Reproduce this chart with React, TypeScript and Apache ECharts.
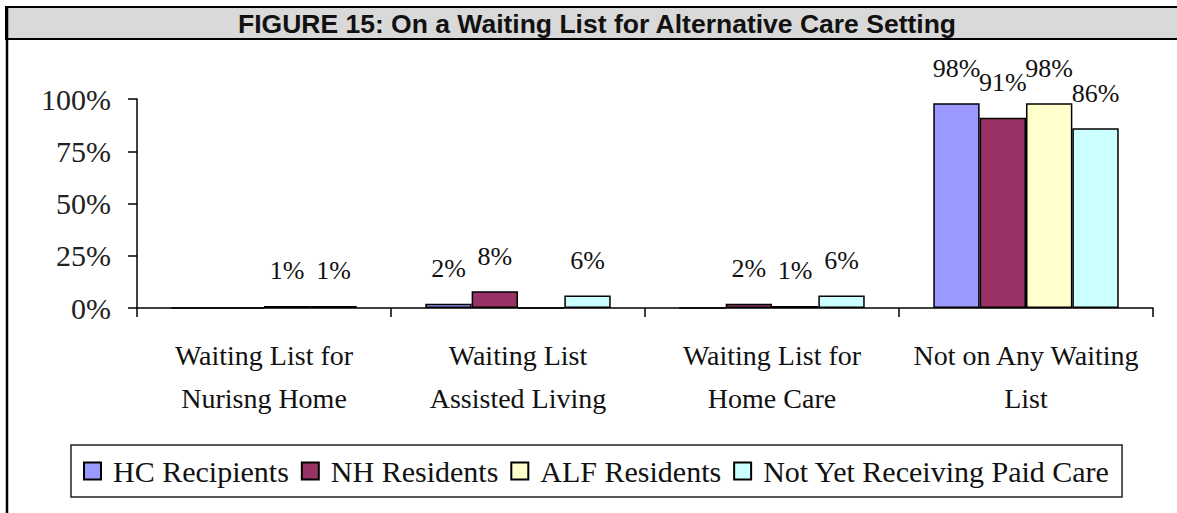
import React, { useEffect, useRef } from "react";
import * as echarts from "echarts";

const categories = [
  "Waiting List for\nNurisng Home",
  "Waiting List\nAssisted Living",
  "Waiting List for\nHome Care",
  "Not on Any Waiting\nList",
];
const seriesNames = ["HC Recipients", "NH Residents", "ALF Residents", "Not Yet Receiving Paid Care"];
const hcRecipients = [0, 2, 0, 98];
const nhResidents = [0, 8, 2, 91];
const alfResidents = [1, 0, 1, 98];
const notYetPaidCare = [1, 6, 6, 86];
const seriesColors = ["#9999FF", "#993366", "#FFFFCC", "#CCFFFF"];
const titleText = "FIGURE 15: On a Waiting List for Alternative Care Setting";

const SERIF = '"Liberation Serif", "Times New Roman", serif';

export default function App() {
  const ref = useRef<HTMLDivElement>(null);
  useEffect(() => {
    if (!ref.current) return;
    const chart = echarts.init(ref.current, undefined, { renderer: "svg" });
    const values = [hcRecipients, nhResidents, alfResidents, notYetPaidCare];
    chart.setOption({
      animation: false,
      backgroundColor: "#ffffff",
      graphic: [
        {
          type: "rect",
          shape: { x: 6, y: 7, width: 1185, height: 32 },
          style: { fill: "#d9d9d9", stroke: "#000", lineWidth: 2 },
          z: 10,
        },
        {
          type: "line",
          shape: { x1: 7, y1: 7, x2: 7, y2: 520 },
          style: { stroke: "#000", lineWidth: 2.5 },
          z: 11,
        },
        {
          type: "text",
          x: 597,
          y: 24,
          z: 12,
          style: {
            text: titleText,
            fontFamily: '"Liberation Sans", Arial, sans-serif',
            fontWeight: "bold",
            fontSize: 26.5,
            fill: "#111",
            align: "center",
            verticalAlign: "middle",
          },
        },
      ],
      grid: { left: 137, right: 24, top: 99, bottom: 205, containLabel: false },
      legend: {
        data: seriesNames,
        left: 71,
        top: 445,
        orient: "horizontal",
        icon: "rect",
        itemWidth: 17,
        itemHeight: 17,
        itemGap: 12,
        padding: [11, 12],
        borderColor: "#222",
        borderWidth: 1.5,
        textStyle: { fontFamily: SERIF, fontSize: 30, color: "#111", padding: [0, 0, 0, 7] },
      },
      xAxis: {
        type: "category",
        data: categories,
        boundaryGap: true,
        axisLine: { lineStyle: { color: "#000", width: 1.5 } },
        axisTick: { show: true, length: 9, lineStyle: { color: "#000", width: 1.5 } },
        axisLabel: {
          fontFamily: SERIF,
          fontSize: 28,
          color: "#111",
          lineHeight: 43,
          margin: 26,
          interval: 0,
        },
      },
      yAxis: {
        type: "value",
        min: 0,
        max: 100,
        interval: 25,
        axisLine: { show: true, lineStyle: { color: "#000", width: 1.5 } },
        axisTick: { show: true, length: 9, lineStyle: { color: "#000", width: 1.5 } },
        splitLine: { show: false },
        axisLabel: {
          fontFamily: SERIF,
          fontSize: 30,
          color: "#222",
          margin: 26,
          formatter: "{value}%",
        },
      },
      series: seriesNames.map((name, i) => ({
        name,
        type: "bar",
        data: values[i],
        barGap: "0%",
        barCategoryGap: "27%",
        itemStyle: { color: seriesColors[i], borderColor: "#000", borderWidth: 1.5 },
        label: {
          show: true,
          position: "top",
          distance: 22,
          fontFamily: SERIF,
          fontSize: 26,
          color: "#111",
          formatter: (p: any) => (p.value ? p.value + "%" : ""),
        },
      })),
    });
    return () => chart.dispose();
  }, []);
  return (
    <div
      ref={ref}
      style={{ position: "absolute", left: 0, top: 0, width: 1177, height: 513 }}
    />
  );
}
